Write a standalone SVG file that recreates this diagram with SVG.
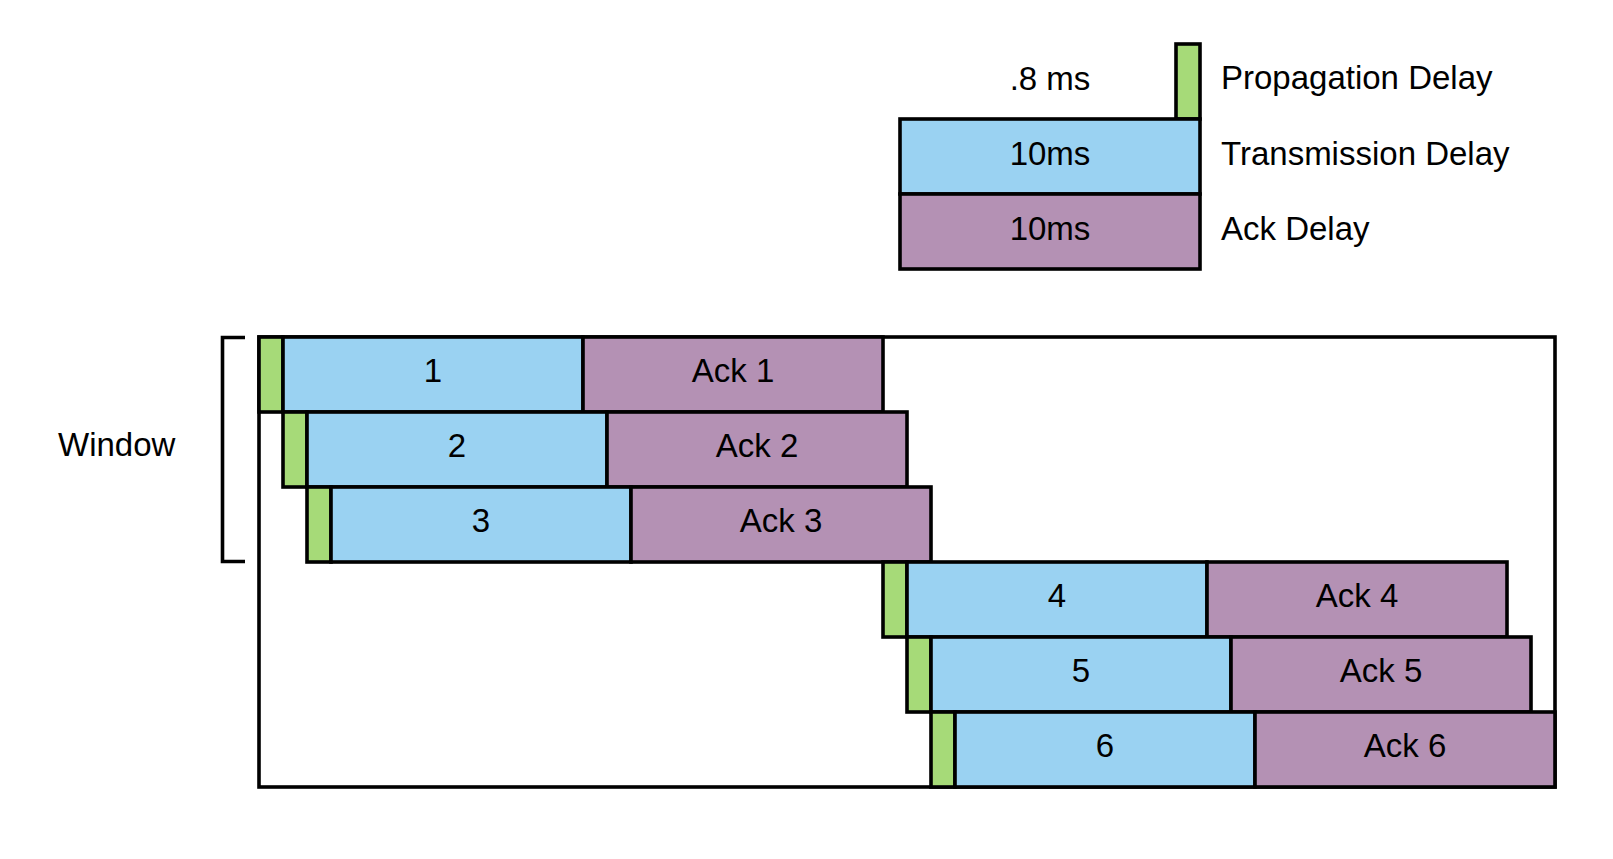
<svg xmlns="http://www.w3.org/2000/svg" width="1613" height="859" viewBox="0 0 1613 859">
<style>
.s { stroke: #000; stroke-width: 3.6; }
.g { fill: #A6DA78; }
.b { fill: #9AD2F2; }
.p { fill: #B491B4; }
.f { fill: none; }
text { font-family: "Liberation Sans", Arial, sans-serif; font-size: 33px; fill: #000; }
.c { text-anchor: middle; }
</style>
<rect width="1613" height="859" fill="#fff"/>
<g id="legend">
  <rect class="s g" x="1176" y="44" width="24" height="75"/>
  <rect class="s b" x="900" y="119" width="300" height="75"/>
  <rect class="s p" x="900" y="194" width="300" height="75"/>
  <text class="c" x="1050" y="90">.8 ms</text>
  <text class="c" x="1050" y="165">10ms</text>
  <text class="c" x="1050" y="240">10ms</text>
  <text x="1221" y="89">Propagation Delay</text>
  <text x="1221" y="165">Transmission Delay</text>
  <text x="1221" y="240">Ack Delay</text>
</g>
<g id="frame">
  <rect class="s f" x="259" y="337" width="1296" height="450"/>
</g>
<g id="window">
  <path class="s f" d="M245,337.5 H222.5 V561.5 H245"/>
  <text x="58" y="456">Window</text>
</g>
<g id="row1">
  <rect class="s g" x="259" y="337" width="24" height="75"/>
  <rect class="s b" x="283" y="337" width="300" height="75"/>
  <rect class="s p" x="583" y="337" width="300" height="75"/>
  <text class="c" x="433" y="382">1</text>
  <text class="c" x="733" y="382">Ack 1</text>
</g>
<g id="row2">
  <rect class="s g" x="283" y="412" width="24" height="75"/>
  <rect class="s b" x="307" y="412" width="300" height="75"/>
  <rect class="s p" x="607" y="412" width="300" height="75"/>
  <text class="c" x="457" y="457">2</text>
  <text class="c" x="757" y="457">Ack 2</text>
</g>
<g id="row3">
  <rect class="s g" x="307" y="487" width="24" height="75"/>
  <rect class="s b" x="331" y="487" width="300" height="75"/>
  <rect class="s p" x="631" y="487" width="300" height="75"/>
  <text class="c" x="481" y="532">3</text>
  <text class="c" x="781" y="532">Ack 3</text>
</g>
<g id="row4">
  <rect class="s g" x="883" y="562" width="24" height="75"/>
  <rect class="s b" x="907" y="562" width="300" height="75"/>
  <rect class="s p" x="1207" y="562" width="300" height="75"/>
  <text class="c" x="1057" y="607">4</text>
  <text class="c" x="1357" y="607">Ack 4</text>
</g>
<g id="row5">
  <rect class="s g" x="907" y="637" width="24" height="75"/>
  <rect class="s b" x="931" y="637" width="300" height="75"/>
  <rect class="s p" x="1231" y="637" width="300" height="75"/>
  <text class="c" x="1081" y="682">5</text>
  <text class="c" x="1381" y="682">Ack 5</text>
</g>
<g id="row6">
  <rect class="s g" x="931" y="712" width="24" height="75"/>
  <rect class="s b" x="955" y="712" width="300" height="75"/>
  <rect class="s p" x="1255" y="712" width="300" height="75"/>
  <text class="c" x="1105" y="757">6</text>
  <text class="c" x="1405" y="757">Ack 6</text>
</g>
</svg>
